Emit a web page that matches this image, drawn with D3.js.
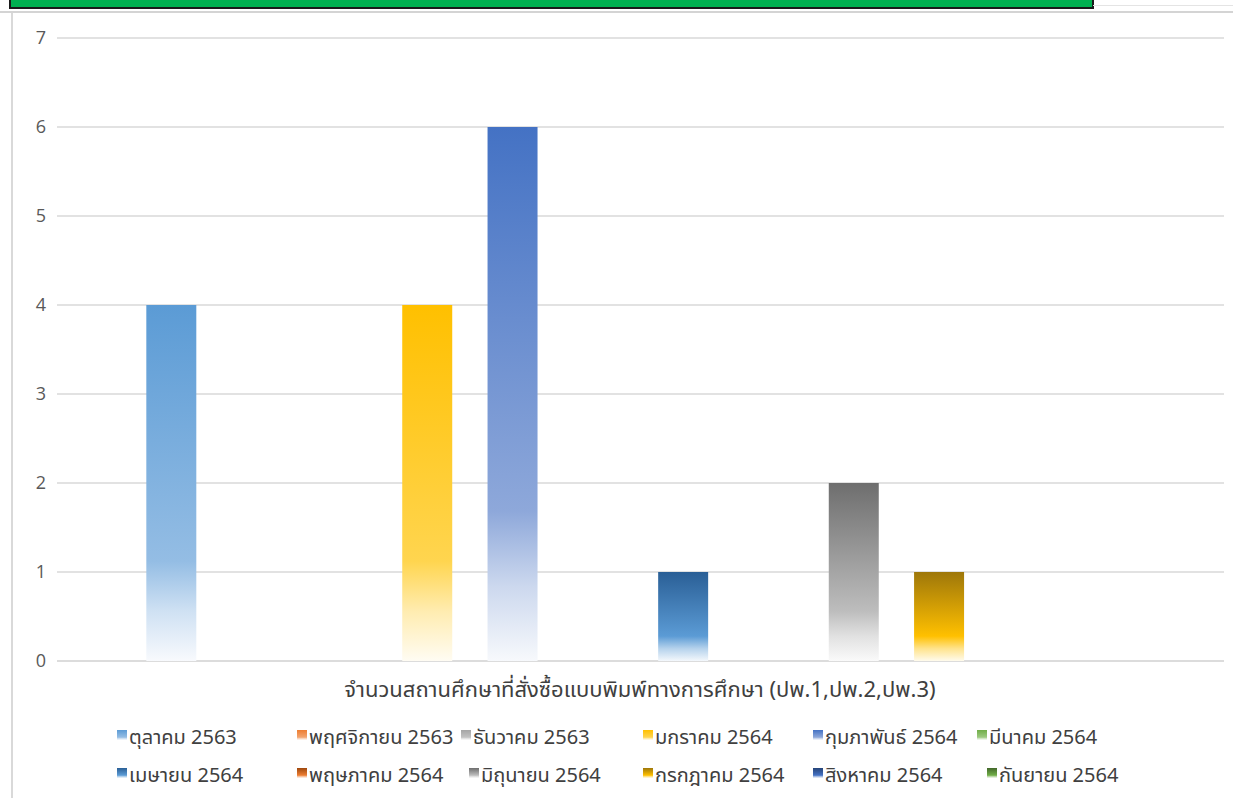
<!DOCTYPE html>
<html>
<head>
<meta charset="utf-8">
<script src="https://cdn.jsdelivr.net/npm/d3@7/dist/d3.min.js"></script>
<style>
  html, body { margin: 0; padding: 0; background: #fff; }
  svg { display: block; font-family: "Noto Sans Thai", "Noto Sans", "DejaVu Sans", sans-serif; }
</style>
</head>
<body>
<svg id="chart" width="1233" height="798"></svg>
<script>
// ---- data ----
const seriesNames = [
  "ตุลาคม 2563", "พฤศจิกายน 2563", "ธันวาคม 2563", "มกราคม 2564",
  "กุมภาพันธ์ 2564", "มีนาคม 2564", "เมษายน 2564", "พฤษภาคม 2564",
  "มิถุนายน 2564", "กรกฎาคม 2564", "สิงหาคม 2564", "กันยายน 2564"
];
const seriesValues = [4, 0, 0, 4, 6, 0, 1, 0, 2, 1, 0, 0];
const yTicks = [0, 1, 2, 3, 4, 5, 6, 7];
const axisTitle = "จำนวนสถานศึกษาที่สั่งซื้อแบบพิมพ์ทางการศึกษา (ปพ.1,ปพ.2,ปพ.3)";
// top colour / lower colour of each series gradient
const topColors = ["#5B9BD5", "#ED7D31", "#A5A5A5", "#FFC000", "#4472C4", "#70AD47",
                   "#2A5F96", "#9E480E", "#6E6E6E", "#9E770A", "#264478", "#43682B"];
const lowColors = ["#94BDE4", "#F3A46E", "#C2C2C2", "#FFD54F", "#8EA8DA", "#9CC97F",
                   "#5B9BD5", "#ED7D31", "#BDBDBD", "#FFC000", "#4472C4", "#70AD47"];

// ---- layout ----
const W = 1233, H = 798;
const plot = { left: 57, right: 1224, top: 38, bottom: 661 };
const svg = d3.select("#chart");

// frame decorations
svg.append("rect").attr("x", 10).attr("y", -2).attr("width", 1083).attr("height", 10)
  .attr("fill", "#00B050").attr("stroke", "#1a1a1a").attr("stroke-width", 2);
svg.append("line").attr("x1", 1093).attr("x2", W).attr("y1", 5.5).attr("y2", 5.5)
  .attr("stroke", "#e4e4e4").attr("stroke-width", 1);
svg.append("line").attr("x1", 0).attr("x2", W).attr("y1", 12).attr("y2", 12)
  .attr("stroke", "#d4d4d4").attr("stroke-width", 2);
svg.append("line").attr("x1", 12).attr("x2", 12).attr("y1", 13).attr("y2", H)
  .attr("stroke", "#d9d9d9").attr("stroke-width", 2);

// gradients
const defs = svg.append("defs");
const white = "#ffffff";
seriesNames.forEach((name, i) => {
  const g = defs.append("linearGradient").attr("id", "grad" + i)
    .attr("x1", 0).attr("y1", 0).attr("x2", 0).attr("y2", 1);
  const c0 = topColors[i], c1 = lowColors[i];
  const stops = [
    [0, c0],
    [0.72, c1],
    [0.86, d3.interpolateRgb(c1, white)(0.55)],
    [1, d3.interpolateRgb(c1, white)(0.93)]
  ];
  stops.forEach(s => g.append("stop").attr("offset", s[0]).attr("stop-color", s[1]));
});

// scales
const y = d3.scaleLinear().domain([0, 7]).range([plot.bottom, plot.top]);
const x = d3.scaleBand().domain(seriesNames).range([plot.left, plot.right])
  .paddingInner(0.414).paddingOuter(1.047).align(0.5);

// gridlines
svg.append("g").selectAll("line").data(yTicks).join("line")
  .attr("x1", plot.left).attr("x2", plot.right)
  .attr("y1", d => y(d)).attr("y2", d => y(d))
  .attr("stroke", d => d === 0 ? "#d0d0d0" : "#d9d9d9")
  .attr("stroke-width", 1.5);

// y axis labels
const yAxis = d3.axisLeft(y).tickValues(yTicks).tickSize(0).tickPadding(0).tickFormat(d3.format("d"));
const ya = svg.append("g").attr("transform", "translate(46,0)").call(yAxis);
ya.select(".domain").remove();
ya.selectAll("text").attr("fill", "#595959").style("font-size", "18px")
  .style("font-family", "'Open Sans', 'Noto Sans', sans-serif");

// bars
svg.append("g").selectAll("rect").data(seriesValues.map((v, i) => ({ v, i })))
  .join("rect")
  .attr("x", d => x(seriesNames[d.i]))
  .attr("width", x.bandwidth())
  .attr("y", d => y(d.v))
  .attr("height", d => y(0) - y(d.v))
  .attr("fill", d => "url(#grad" + d.i + ")");

// axis title
svg.append("text").attr("x", 640).attr("y", 697)
  .attr("text-anchor", "middle").attr("fill", "#404040").style("font-size", "22px")
  .text(axisTitle);

// legend (two rows of six)
const legendX = [[117, 297, 461, 643, 813, 977], [117, 297, 469, 643, 813, 987]];
const legendY = [736, 774];
const leg = svg.append("g");
seriesNames.forEach((name, i) => {
  const r = Math.floor(i / 6), c = i % 6;
  const gx = legendX[r][c], gy = legendY[r];
  leg.append("rect").attr("x", gx).attr("y", gy - 6).attr("width", 10).attr("height", 10)
    .attr("fill", "url(#grad" + i + ")");
  leg.append("text").attr("x", gx + 12).attr("y", gy + 8)
    .attr("fill", "#404040").style("font-size", "20px").text(name);
});
</script>
</body>
</html>
